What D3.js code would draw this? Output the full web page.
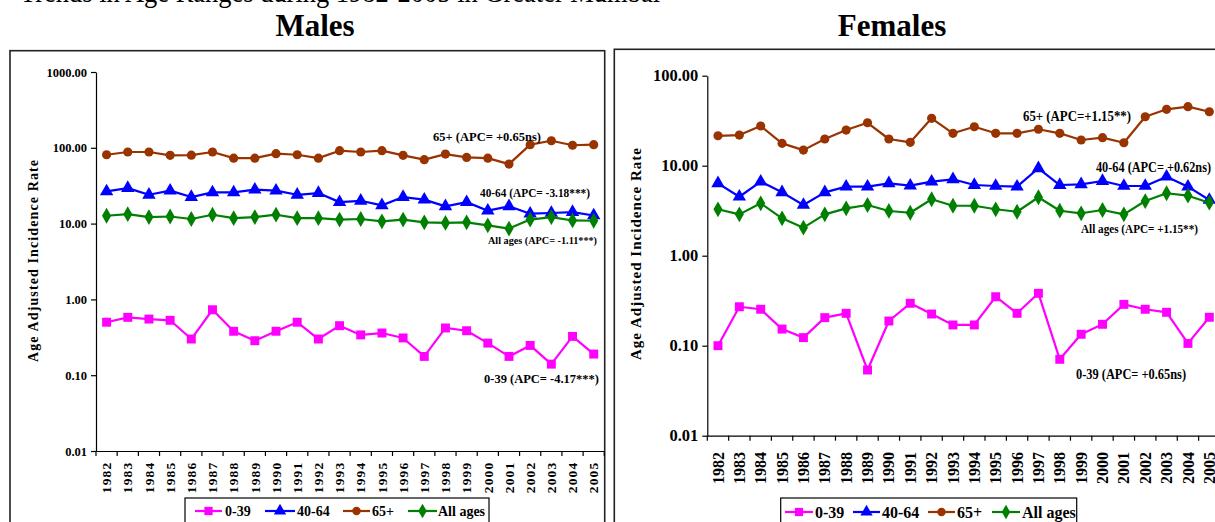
<!DOCTYPE html>
<html><head><meta charset="utf-8">
<script src="https://cdn.jsdelivr.net/npm/d3@7"></script>
<style>
html,body{margin:0;padding:0;background:#fff;overflow:hidden;}
svg{display:block;}
text{font-family:"Liberation Serif","Times New Roman",serif;font-weight:bold;fill:#000;}
</style></head>
<body>
<svg id="c" width="1215" height="522"></svg>
<script>
const years = ["1982","1983","1984","1985","1986","1987","1988","1989","1990","1991","1992","1993","1994","1995","1996","1997","1998","1999","2000","2001","2002","2003","2004","2005"];
const seriesNames = ["0-39","40-64","65+","All ages"];
const seriesColors = ["#FF00FF","#0000FF","#993300","#008000"];
const seriesSymbols = ["square","triangle","circle","diamond"];

// Males
const maleA0_39 = [0.50,0.58,0.55,0.53,0.30,0.73,0.38,0.285,0.38,0.50,0.30,0.45,0.34,0.36,0.31,0.177,0.42,0.386,0.265,0.177,0.247,0.14,0.325,0.19];
const maleA40_64 = [26.6,29.4,24.0,27.2,22.4,25.8,25.8,28.0,27.2,24.0,25.3,19.2,20.0,17.4,22.4,20.7,16.9,19.2,14.8,16.9,13.5,13.8,14.2,12.8];
const maleA65 = [81,88,88,79.5,80,88,73,73,83.6,81,73,91.6,88,91.6,79.5,69.7,82.6,74.7,73,61,110,124,108,110];
const maleAll = [12.7,13.3,12.2,12.4,11.5,13.1,11.8,12.2,13.1,11.8,11.8,11.3,11.5,10.7,11.3,10.4,10.2,10.4,9.5,8.6,11.3,12.2,11.0,10.9];
const maleTicks = [0.01,0.1,1,10,100,1000];
const maleNotes = ["65+ (APC= +0.65ns)","40-64 (APC= -3.18***)","All ages  (APC= -1.11***)","0-39 (APC= -4.17***)"];

// Females
const femA0_39 = [0.10,0.271,0.254,0.153,0.123,0.205,0.229,0.0537,0.188,0.296,0.225,0.17,0.17,0.35,0.229,0.382,0.0706,0.134,0.173,0.288,0.254,0.235,0.106,0.207];
const femA40_64 = [6.37,4.52,6.64,5.06,3.66,5.06,5.85,5.85,6.37,6.0,6.64,7.06,6.1,5.95,5.85,9.36,6.1,6.21,6.76,5.95,5.95,7.55,5.85,4.16];
const femA65 = [21.5,21.9,27.6,17.7,14.9,19.8,24.9,30.0,19.8,18.2,33.6,22.9,27.1,22.9,22.9,25.4,22.9,19.3,20.5,18.0,35.0,42.3,45.3,39.8];
const femAll = [3.28,2.88,3.82,2.6,2.05,2.88,3.36,3.66,3.14,3.0,4.24,3.59,3.59,3.28,3.08,4.46,3.16,2.96,3.22,2.88,4.05,4.94,4.64,3.88];
const femTicks = [0.01,0.1,1,10,100];
const femNotes = ["65+ (APC=+1.15**)","40-64 (APC= +0.62ns)","All ages (APC= +1.15**)","0-39 (APC= +0.65ns)"];

const svg = d3.select("#c");

// partially visible heading line at the very top
svg.append("text").attr("x",20).attr("y",2)
  .style("font-size","30px").style("font-weight","normal")
  .attr("textLength",640).attr("lengthAdjust","spacingAndGlyphs")
  .text("Trends in Age Ranges during 1982-2005 in Greater Mumbai");

const symMap = {square:d3.symbolSquare, triangle:d3.symbolTriangle, circle:d3.symbolCircle, diamond:d3.symbolDiamond};
const symSize = {square:80, triangle:78, circle:66, diamond:72};

const panels = [
  {title:"Males", titleX:315, box:[10,50.7,604.7,540], xr:[96,604.3], yr:[451,72], ticks:maleTicks,
   data:[maleA0_39,maleA40_64,maleA65,maleAll], tickFont:12.5, xFont:13.5, xLabelTop:461.5, xLs:1.2,
   yTitle:{x:33,y:261,size:14,len:202},
   notes:[{t:maleNotes[0],x:433,y:141,s:13,len:108},{t:maleNotes[1],x:480,y:197,s:13,len:110},{t:maleNotes[2],x:488,y:244,s:10,len:109},{t:maleNotes[3],x:484,y:383,s:13,len:115}],
   legend:{box:[185,498,489,540], y:511, size:14, items:[{l0:195,l1:222,t:225},{l0:265,l1:295,t:297},{l0:343,l1:370,t:372},{l0:408,l1:437,t:438}]}},
  {title:"Females", titleX:892, box:[614.3,49.3,1240,540], xr:[707.3,1220], yr:[435.7,75.7], ticks:femTicks,
   data:[femA0_39,femA40_64,femA65,femAll], tickFont:16.5, xFont:16, xLabelTop:452, xLs:0,
   yTitle:{x:636,y:254,size:15,len:212},
   notes:[{t:femNotes[0],x:1023,y:121,s:14,len:108},{t:femNotes[1],x:1096,y:172,s:14,len:115},{t:femNotes[2],x:1081,y:233,s:13,len:117},{t:femNotes[3],x:1076,y:379,s:14,len:110}],
   legend:{box:[780.7,498,1076.7,540], y:512, size:16, items:[{l0:785,l1:813,t:815},{l0:853,l1:880,t:882},{l0:928,l1:955,t:957},{l0:992,l1:1020,t:1022}]}}
];

panels.forEach(p=>{
  const g = svg.append("g");
  g.append("text").attr("x",p.titleX).attr("y",36).attr("text-anchor","middle")
    .style("font-size","31px").text(p.title);
  g.append("rect").attr("x",p.box[0]).attr("y",p.box[1]).attr("width",p.box[2]-p.box[0]).attr("height",p.box[3]-p.box[1])
    .attr("fill","none").attr("stroke","#222").attr("stroke-width",1.6);

  const x = d3.scaleBand().domain(years).range(p.xr).padding(0);
  const y = d3.scaleLog().domain([0.01, p.ticks[p.ticks.length-1]]).range(p.yr);

  const ya = g.append("g").attr("transform",`translate(${p.xr[0]},0)`)
    .call(d3.axisLeft(y).tickValues(p.ticks).tickFormat(d3.format(".2f")).tickSize(5).tickSizeOuter(0).tickPadding(4));
  ya.select(".domain").attr("stroke","#000").attr("stroke-width",1.2);
  ya.selectAll(".tick line").attr("stroke","#000").attr("stroke-width",1.2);
  ya.selectAll(".tick text").style("font-size",p.tickFont+"px").style("font-family","'Liberation Serif',serif").style("font-weight","bold").attr("fill","#000");

  const xa = g.append("g").attr("transform",`translate(0,${p.yr[0]})`)
    .call(d3.axisBottom(x).tickSize(0).tickSizeOuter(0).tickFormat(""));
  xa.select(".domain").attr("stroke","#000").attr("stroke-width",1.2);
  const bounds = years.map(v=>x(v)).concat([x(years[years.length-1])+x.bandwidth()]);
  g.selectAll(".bt").data(bounds).enter().append("line")
    .attr("x1",d=>d).attr("x2",d=>d).attr("y1",p.yr[0]).attr("y2",p.yr[0]+5)
    .attr("stroke","#000").attr("stroke-width",1.2);
  g.selectAll(".yl").data(years).enter().append("text")
    .attr("transform",d=>`translate(${x(d)+x.bandwidth()/2+ p.xFont*0.35},${p.xLabelTop}) rotate(-90)`)
    .attr("text-anchor","end").style("font-size",p.xFont+"px").style("letter-spacing",p.xLs+"px")
    .text(d=>d);

  g.append("text").attr("transform",`translate(${p.yTitle.x+5},${p.yTitle.y}) rotate(-90)`)
    .attr("text-anchor","middle").style("font-size",p.yTitle.size+"px")
    .attr("textLength",p.yTitle.len).attr("lengthAdjust","spacing")
    .text("Age Adjusted Incidence Rate");

  const line = d3.line().x((d,i)=>x(years[i])+x.bandwidth()/2).y(d=>y(d));
  p.data.forEach((vals,si)=>{
    g.append("path").datum(vals).attr("d",line).attr("fill","none")
      .attr("stroke",seriesColors[si]).attr("stroke-width",2.2).attr("stroke-linejoin","round");
    g.selectAll(".m"+si).data(vals).enter().append("path")
      .attr("transform",(d,i)=>`translate(${x(years[i])+x.bandwidth()/2},${y(d)})`)
      .attr("d",d3.symbol().type(symMap[seriesSymbols[si]]).size(symSize[seriesSymbols[si]]))
      .attr("fill",seriesColors[si]);
  });

  p.notes.forEach(n=>{
    g.append("text").attr("x",n.x).attr("y",n.y).style("font-size",n.s+"px")
      .attr("textLength",n.len).attr("lengthAdjust","spacingAndGlyphs").text(n.t);
  });

  const L = p.legend;
  g.append("rect").attr("x",L.box[0]).attr("y",L.box[1]).attr("width",L.box[2]-L.box[0]).attr("height",L.box[3]-L.box[1])
    .attr("fill","#fff").attr("stroke","#000").attr("stroke-width",1.2);
  L.items.forEach((it,si)=>{
    g.append("line").attr("x1",it.l0).attr("x2",it.l1).attr("y1",L.y).attr("y2",L.y)
      .attr("stroke",seriesColors[si]).attr("stroke-width",2.2);
    g.append("path").attr("transform",`translate(${(it.l0+it.l1)/2},${L.y})`)
      .attr("d",d3.symbol().type(symMap[seriesSymbols[si]]).size(symSize[seriesSymbols[si]]*0.85))
      .attr("fill",seriesColors[si]);
    g.append("text").attr("x",it.t).attr("y",L.y+L.size*0.35).style("font-size",L.size+"px").text(seriesNames[si]);
  });
});
</script>
</body></html>
